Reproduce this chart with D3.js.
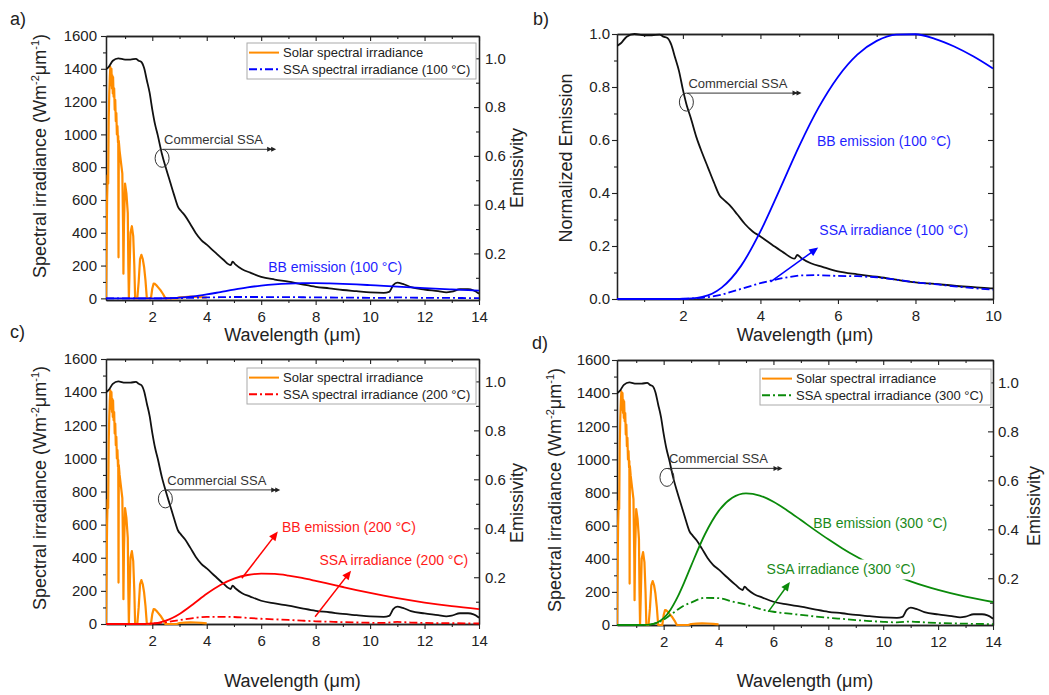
<!DOCTYPE html>
<html>
<head>
<meta charset="utf-8">
<script src="https://cdn.jsdelivr.net/npm/d3@7"></script>
<style>
  body { margin: 0; background: #fff; }
  svg text { font-family: "Liberation Sans", Arial, Helvetica, sans-serif; fill: #222; }
</style>
</head>
<body>
<svg id="fig" width="1049" height="695"></svg>
<script>
// solar spectrum (AM1.5), W m-2 um-1
const solarWl = [0.3, 0.32, 0.34, 0.36, 0.38, 0.4, 0.42, 0.44, 0.45, 0.46, 0.47, 0.48, 0.49, 0.5, 0.52, 0.53, 0.55, 0.56, 0.58, 0.6,
  0.62, 0.64, 0.66, 0.68, 0.7, 0.72, 0.74, 0.75, 0.76, 0.77,
  0.8, 0.85, 0.9, 0.93, 0.94, 0.96, 1.0, 1.05, 1.1, 1.12, 1.14, 1.17, 1.2, 1.25, 1.3, 1.34, 1.37, 1.45, 1.5, 1.55,
  1.6, 1.65, 1.7, 1.75, 1.8, 1.95, 2.0, 2.05, 2.1, 2.15, 2.2, 2.3, 2.4, 2.48, 2.9, 3.0, 3.2, 3.4, 3.6, 3.8, 4.0]
const solarIrr = [0, 300, 600, 750, 700, 1100, 1250, 1350, 1380, 1410, 1300, 1390, 1320, 1400, 1280, 1360, 1250, 1350, 1230, 1280,
  1150, 1210, 1080, 1130, 1000, 1050, 950, 990, 250, 960,
  900, 830, 760, 400, 150, 450, 700, 640, 520, 200, 0, 200, 400, 440, 380, 200, 0, 0, 100, 240,
  265, 240, 190, 110, 0, 0, 60, 90, 88, 80, 70, 50, 25, 0, 0, 6, 8, 10, 9, 7, 4]

// commercial SSA emissivity
const ssaWl = [0.3, 0.4, 0.55, 0.75, 1.0, 1.2, 1.4, 1.5, 1.6, 1.7, 1.8, 1.9, 2.0, 2.1, 2.2, 2.35, 2.5, 2.65, 2.8, 2.95,
  3.05, 3.2, 3.4, 3.6, 3.8, 4.0, 4.3, 4.6, 4.88, 4.95, 5.05, 5.3, 5.6, 6.0, 6.5, 7.0, 7.5, 8.0, 8.5, 9.0,
  9.5, 10.0, 10.5, 10.7, 10.85, 11.0, 11.2, 11.5, 12.0, 12.5, 12.8, 13.0, 13.3, 13.6, 13.8, 14.0]
const ssaEmis = [0.955, 0.965, 0.99, 1.0, 0.995, 0.995, 0.998, 0.99, 0.985, 0.96, 0.91, 0.86, 0.79, 0.73, 0.685, 0.61, 0.55, 0.495, 0.44, 0.39,
  0.375, 0.355, 0.32, 0.283, 0.255, 0.236, 0.205, 0.175, 0.152, 0.166, 0.155, 0.135, 0.121, 0.104, 0.093, 0.084, 0.073, 0.063, 0.057, 0.05,
  0.045, 0.04, 0.038, 0.042, 0.07, 0.08, 0.075, 0.062, 0.052, 0.045, 0.04, 0.043, 0.053, 0.053, 0.048, 0.035]

// black body and SSA emission
const bbWl = [0.3, 1, 1.25, 1.5, 1.75, 2, 2.25, 2.5, 2.75, 3, 3.5, 4, 4.5, 5, 5.5, 6, 6.5, 7, 7.5, 8, 8.5, 9, 9.5, 10, 10.5, 11, 11.5, 12, 13, 14]
const bb100 = [0, 0, 0, 0, 0.01, 0.05, 0.23, 0.76, 1.9, 4.0, 11.6, 23.7, 38.4, 53.5, 67.0, 77.8, 85.6, 90.4, 92.6, 92.7, 91.1, 88.4, 84.9, 80.7, 76.4, 71.8, 67.3, 62.9, 54.7, 47.2]
const bb200 = [0, 0, 0, 0.08, 0.65, 2.9, 8.7, 19.9, 37.4, 60.7, 119.8, 182.2, 235.3, 273.7, 295.9, 304.2, 302.2, 292.4, 278.0, 260.5, 242.1, 223.4, 205.1, 187.6, 171.3, 156.1, 142.2, 129.4, 107.4, 89.4]
const bb300 = [0, 0, 0.23, 2.65, 13.4, 41.3, 92.3, 166.3, 257.5, 356.9, 546.4, 687.6, 767.8, 794.5, 781.7, 743.8, 692.0, 633.7, 574.4, 517.2, 463.8, 414.7, 370.3, 330.5, 295.3, 263.9, 236.1, 211.6, 170.8, 138.8]
const ssa100 = [0, 0, 0, 0, 0.01, 0.04, 0.15, 0.42, 0.87, 1.52, 3.48, 5.59, 7.10, 8.29, 8.31, 8.09, 7.96, 7.59, 6.76, 5.84, 5.19, 4.42, 3.82, 3.23, 2.90, 5.74, 4.17, 3.27, 2.46, 1.65]
const ssa200 = [0, 0, 0, 0.08, 0.61, 2.29, 5.79, 10.9, 17.2, 23.1, 35.9, 43.0, 43.5, 42.4, 36.7, 31.6, 28.1, 24.6, 20.3, 16.4, 13.8, 11.2, 9.2, 7.5, 6.5, 12.5, 8.8, 6.7, 4.8, 3.1]
const ssa300 = [0, 0, 0.23, 2.6, 12.7, 32.6, 61.4, 91.5, 118.5, 135.6, 163.9, 162.3, 142.0, 123.1, 96.9, 80, 70, 61, 52, 44, 37, 30, 24, 19, 16, 21, 16, 12, 8, 5]
// panel b, normalised to the 100 °C peak
const bbNorm100 = [0, 0, 0, 0, 0, 0.001, 0.002, 0.008, 0.02, 0.043, 0.125, 0.255, 0.414, 0.577, 0.722, 0.838, 0.922, 0.974, 0.998, 0.999, 0.982, 0.953, 0.915, 0.87]
const ssaNorm100 = [0, 0, 0, 0, 0, 0, 0.002, 0.0045, 0.009, 0.016, 0.038, 0.06, 0.077, 0.089, 0.09, 0.087, 0.086, 0.082, 0.073, 0.063, 0.056, 0.048, 0.041, 0.035]

const xTicks14 = [2, 4, 6, 8, 10, 12, 14]
const xMinor14 = [1, 3, 5, 7, 9, 11, 13]
const xTicks10 = [2, 4, 6, 8, 10]
const xMinor10 = [1, 3, 5, 7, 9]
const irrTicks = [0, 200, 400, 600, 800, 1000, 1200, 1400, 1600]
const irrMinor = [100, 300, 500, 700, 900, 1100, 1300, 1500]
const emisTicks = [0.2, 0.4, 0.6, 0.8, 1.0]
const emisMinor = [0.1, 0.3, 0.5, 0.7, 0.9]
const normTicks = [0, 0.2, 0.4, 0.6, 0.8, 1.0]
const normMinor = [0.1, 0.3, 0.5, 0.7, 0.9]

const ORANGE = '#ff8c00'
const svg = d3.select('#fig')
const defs = svg.append('defs')

function styleAxis(sel) {
  sel.attr('font-size', 15).attr('font-family', null)
  sel.select('.domain').attr('stroke', '#222').attr('stroke-width', 1.3)
  sel.selectAll('.tick line').attr('stroke', '#222').attr('stroke-width', 1.1)
}

function drawCurve(g, xs, ys, x, y, color, width, dash, curve) {
  g.append('path')
    .datum(ys)
    .attr('fill', 'none')
    .attr('stroke', color)
    .attr('stroke-width', width)
    .attr('stroke-dasharray', dash || null)
    .attr('stroke-linejoin', 'round')
    .attr('d', d3.line().curve(curve || d3.curveLinear).x((d, i) => x(xs[i])).y(d => y(d)))
}

function arrow(g, x1, y1, x2, y2, color) {
  const a = Math.atan2(y2 - y1, x2 - x1)
  const L = 9, Wd = 4
  g.append('line').attr('x1', x1).attr('y1', y1)
    .attr('x2', x2 - 6 * Math.cos(a)).attr('y2', y2 - 6 * Math.sin(a))
    .attr('stroke', color).attr('stroke-width', 1.5)
  const bx = x2 - L * Math.cos(a), by = y2 - L * Math.sin(a)
  g.append('path')
    .attr('d', `M${x2},${y2}L${bx + Wd * Math.sin(a)},${by - Wd * Math.cos(a)}L${bx - Wd * Math.sin(a)},${by + Wd * Math.cos(a)}Z`)
    .attr('fill', color)
}

function commercialTag(g, cx, cy, x1) {
  g.append('ellipse').attr('cx', cx).attr('cy', cy).attr('rx', 7).attr('ry', 9)
    .attr('fill', 'none').attr('stroke', '#333').attr('stroke-width', 1)
  const ly = cy - 9
  g.append('line').attr('x1', cx + 1).attr('x2', x1 - 3).attr('y1', ly).attr('y2', ly)
    .attr('stroke', '#333').attr('stroke-width', 1)
  g.append('path').attr('d', `M${x1},${ly}l-5,-2.5v5z M${x1 - 4},${ly}l-5,-2.5v5z`).attr('fill', '#222')
  g.append('text').attr('x', cx + 2).attr('y', ly - 5).attr('font-size', 13).style('fill', '#333').text('Commercial SSA')
}

function label(g, px, py, txt, color, bg) {
  const t = g.append('text').attr('x', px).attr('y', py).attr('font-size', 14).style('fill', color).text(txt)
  if (bg) {
    const b = t.node().getBBox()
    g.insert('rect', () => t.node())
      .attr('x', b.x - 3).attr('y', b.y - 2).attr('width', b.width + 6).attr('height', b.height + 4)
      .attr('fill', '#fff')
  }
}

const irrPanels = [
  { tag: 'a)', tagX: 10, tagY: 25, left: 106, top: 36, w: 373, h: 264, yMin: -10, temp: '100', color: '#0000ff', text: '#1f1fff',
    bb: bb100, ssa: ssa100, yTitleX: -60, yTitleY: 120, eTitleX: 44, eTitleY: 132, xTitleDy: 41, leftPad: 4, rightPad: 6,
    legend: { x: 141, y: 7, w: 229, h: 36 },
    ell: { x: 2.36, e: 0.59, end: 6.55 },
    bbLabel: { x: 6.26, v: 159 } },
  { tag: 'c)', tagX: 10, tagY: 338, left: 106, top: 359, w: 373, h: 265, yMin: 0, temp: '200', color: '#ff0000', text: '#ff1a1a',
    bb: bb200, ssa: ssa200, yTitleX: -60, yTitleY: 129, eTitleX: 44, eTitleY: 144, xTitleDy: 63, leftPad: 4, rightPad: 6,
    legend: { x: 141, y: 9, w: 229, h: 36 },
    ell: { x: 2.48, e: 0.52, end: 6.7 },
    bbLabel: { x: 6.76, v: 558 }, bbArrow: [5.29, 276, 6.61, 558],
    ssaLabel: { x: 8.14, v: 357 }, ssaArrow: [7.98, 44, 9.3, 322] },
  { tag: 'd)', tagX: 532, tagY: 349, left: 617, top: 360, w: 376, h: 265, yMin: 0, temp: '300', color: '#0a8a0a', text: '#1a8a1a',
    bb: bb300, ssa: ssa300, yTitleX: -56, yTitleY: 130, eTitleX: 47, eTitleY: 146, xTitleDy: 62, leftPad: 2, rightPad: 5,
    legend: { x: 143, y: 9, w: 231, h: 36 },
    ell: { x: 2.12, e: 0.612, end: 6.33 },
    bbLabel: { x: 7.45, v: 583 },
    ssaLabel: { x: 5.75, v: 305, bg: true }, ssaArrow: [5.81, 79, 6.6, 260] }
]

function drawIrrPanel(p, idx) {
  svg.append('text').attr('x', p.tagX).attr('y', p.tagY).attr('font-size', 18).text(p.tag)

  const g = svg.append('g').attr('transform', `translate(${p.left},${p.top})`)
  const x = d3.scaleLinear().domain([0.3, 14]).range([0, p.w])
  const y = d3.scaleLinear().domain([p.yMin, 1600]).range([p.h, 0])
  const ye = d3.scaleLinear().domain([0.009, 1.0915]).range([p.h, 0])

  // axes
  g.append('g').attr('transform', `translate(0,${p.h})`)
    .call(d3.axisBottom(x).tickValues(xTicks14).tickSize(5).tickPadding(6).tickSizeOuter(0).tickFormat(d3.format('d'))).call(styleAxis)
  g.append('g').attr('transform', `translate(0,${p.h})`)
    .call(d3.axisBottom(x).tickValues(xMinor14).tickSize(3).tickSizeOuter(0).tickFormat('')).call(styleAxis)
  g.append('g')
    .call(d3.axisTop(x).tickValues(xTicks14).tickSize(-5).tickSizeOuter(0).tickFormat('')).call(styleAxis)
  g.append('g')
    .call(d3.axisTop(x).tickValues(xMinor14).tickSize(-3).tickSizeOuter(0).tickFormat('')).call(styleAxis)
  g.append('g')
    .call(d3.axisLeft(y).tickValues(irrTicks).tickSize(5).tickPadding(p.leftPad).tickSizeOuter(0).tickFormat(d3.format('d'))).call(styleAxis)
  g.append('g')
    .call(d3.axisLeft(y).tickValues(irrMinor).tickSize(3).tickSizeOuter(0).tickFormat('')).call(styleAxis)
  g.append('g').attr('transform', `translate(${p.w},0)`)
    .call(d3.axisRight(ye).tickValues(emisTicks).tickSize(-5).tickPadding(p.rightPad).tickSizeOuter(0).tickFormat(d3.format('.1f'))).call(styleAxis)
  g.append('g').attr('transform', `translate(${p.w},0)`)
    .call(d3.axisRight(ye).tickValues(emisMinor).tickSize(-3).tickSizeOuter(0).tickFormat('')).call(styleAxis)

  // titles
  const yt = g.append('text').attr('transform', `translate(${p.yTitleX},${p.yTitleY}) rotate(-90)`)
    .attr('text-anchor', 'middle').attr('font-size', 18)
  yt.append('tspan').text('Spectral irradiance (Wm')
  yt.append('tspan').attr('dy', -7).attr('font-size', 11).text('-2')
  yt.append('tspan').attr('dy', 7).text('μm')
  yt.append('tspan').attr('dy', -7).attr('font-size', 11).text('-1')
  yt.append('tspan').attr('dy', 7).text(')')
  g.append('text').attr('transform', `translate(${p.w + p.eTitleX},${p.eTitleY}) rotate(-90)`)
    .attr('text-anchor', 'middle').attr('font-size', 18).text('Emissivity')
  g.append('text').attr('x', p.w / 2).attr('y', p.h + p.xTitleDy)
    .attr('text-anchor', 'middle').attr('font-size', 18).text('Wavelength (μm)')

  // curves
  const clipId = 'clip' + idx
  defs.append('clipPath').attr('id', clipId).append('rect').attr('x', 0).attr('y', -2).attr('width', p.w).attr('height', p.h + 4)
  const plot = g.append('g').attr('clip-path', `url(#${clipId})`)
  drawCurve(plot, solarWl, solarIrr, x, y, ORANGE, 2.2)
  drawCurve(plot, ssaWl, ssaEmis, x, ye, '#111', 1.8, null, d3.curveMonotoneX)
  drawCurve(plot, bbWl, p.bb, x, y, p.color, 1.8, null, d3.curveMonotoneX)
  drawCurve(plot, bbWl, p.ssa, x, y, p.color, 1.8, '8,3,2,3', d3.curveMonotoneX)

  // annotations
  commercialTag(g, x(p.ell.x), ye(p.ell.e), x(p.ell.end))
  label(g, x(p.bbLabel.x), y(p.bbLabel.v), `BB emission (${p.temp} °C)`, p.text)
  if (p.ssaLabel) label(g, x(p.ssaLabel.x), y(p.ssaLabel.v), `SSA irradiance (${p.temp} °C)`, p.text, p.ssaLabel.bg)
  if (p.bbArrow) arrow(g, x(p.bbArrow[0]), y(p.bbArrow[1]), x(p.bbArrow[2]), y(p.bbArrow[3]), p.color)
  if (p.ssaArrow) arrow(g, x(p.ssaArrow[0]), y(p.ssaArrow[1]), x(p.ssaArrow[2]), y(p.ssaArrow[3]), p.color)

  // legend
  const L = p.legend
  const lg = g.append('g').attr('transform', `translate(${L.x},${L.y})`)
  lg.append('rect').attr('width', L.w).attr('height', L.h).attr('fill', '#fff').attr('stroke', '#aaa').attr('stroke-width', 1)
  const rows = [
    { name: 'Solar spectral irradiance', color: ORANGE, dash: null },
    { name: `SSA spectral irradiance (${p.temp} °C)`, color: p.color, dash: '8,3,2,3' }
  ]
  rows.forEach((r, i) => {
    const ry = 9.6 + i * 16.6
    lg.append('line').attr('x1', 2).attr('x2', 32).attr('y1', ry).attr('y2', ry)
      .attr('stroke', r.color).attr('stroke-width', 2).attr('stroke-dasharray', r.dash)
    lg.append('text').attr('x', 36).attr('y', ry + 4.6).attr('font-size', 13).text(r.name)
  })
}

irrPanels.forEach(drawIrrPanel)

// panel b
function drawPanelB() {
  const p = { left: 617, top: 34, w: 376, h: 265 }
  svg.append('text').attr('x', 533).attr('y', 25).attr('font-size', 18).text('b)')
  const g = svg.append('g').attr('transform', `translate(${p.left},${p.top})`)
  const x = d3.scaleLinear().domain([0.3, 10]).range([0, p.w])
  const y = d3.scaleLinear().domain([0, 1]).range([p.h, 0])

  g.append('g').attr('transform', `translate(0,${p.h})`)
    .call(d3.axisBottom(x).tickValues(xTicks10).tickSize(5).tickPadding(6).tickSizeOuter(0).tickFormat(d3.format('d'))).call(styleAxis)
  g.append('g').attr('transform', `translate(0,${p.h})`)
    .call(d3.axisBottom(x).tickValues(xMinor10).tickSize(3).tickSizeOuter(0).tickFormat('')).call(styleAxis)
  g.append('g')
    .call(d3.axisTop(x).tickValues(xTicks10).tickSize(-5).tickSizeOuter(0).tickFormat('')).call(styleAxis)
  g.append('g')
    .call(d3.axisTop(x).tickValues(xMinor10).tickSize(-3).tickSizeOuter(0).tickFormat('')).call(styleAxis)
  g.append('g')
    .call(d3.axisLeft(y).tickValues(normTicks).tickSize(5).tickPadding(2).tickSizeOuter(0).tickFormat(d3.format('.1f'))).call(styleAxis)
  g.append('g')
    .call(d3.axisLeft(y).tickValues(normMinor).tickSize(3).tickSizeOuter(0).tickFormat('')).call(styleAxis)
  g.append('g').attr('transform', `translate(${p.w},0)`)
    .call(d3.axisRight(y).tickValues(normTicks).tickSize(-5).tickSizeOuter(0).tickFormat('')).call(styleAxis)
  g.append('g').attr('transform', `translate(${p.w},0)`)
    .call(d3.axisRight(y).tickValues(normMinor).tickSize(-3).tickSizeOuter(0).tickFormat('')).call(styleAxis)

  g.append('text').attr('transform', `translate(-45,124) rotate(-90)`)
    .attr('text-anchor', 'middle').attr('font-size', 18).text('Normalized Emission')
  g.append('text').attr('x', p.w / 2).attr('y', p.h + 42)
    .attr('text-anchor', 'middle').attr('font-size', 18).text('Wavelength (μm)')

  defs.append('clipPath').attr('id', 'clipb').append('rect').attr('x', 0).attr('y', -2).attr('width', p.w).attr('height', p.h + 4)
  const plot = g.append('g').attr('clip-path', 'url(#clipb)')
  drawCurve(plot, ssaWl, ssaEmis, x, y, '#111', 1.8, null, d3.curveMonotoneX)
  drawCurve(plot, bbWl, bbNorm100, x, y, '#0000ff', 1.8, null, d3.curveMonotoneX)
  drawCurve(plot, bbWl, ssaNorm100, x, y, '#0000ff', 1.8, '8,3,2,3')

  commercialTag(g, x(2.09), y(0.743), x(5.06))
  label(g, x(5.46), y(0.579), 'BB emission (100 °C)', '#1f1fff')
  label(g, x(5.52), y(0.242), 'SSA irradiance (100 °C)', '#1f1fff')
  arrow(g, x(4.26), y(0.065), x(5.49), y(0.194), '#0000ff')
}

drawPanelB()
</script>
</body>
</html>
